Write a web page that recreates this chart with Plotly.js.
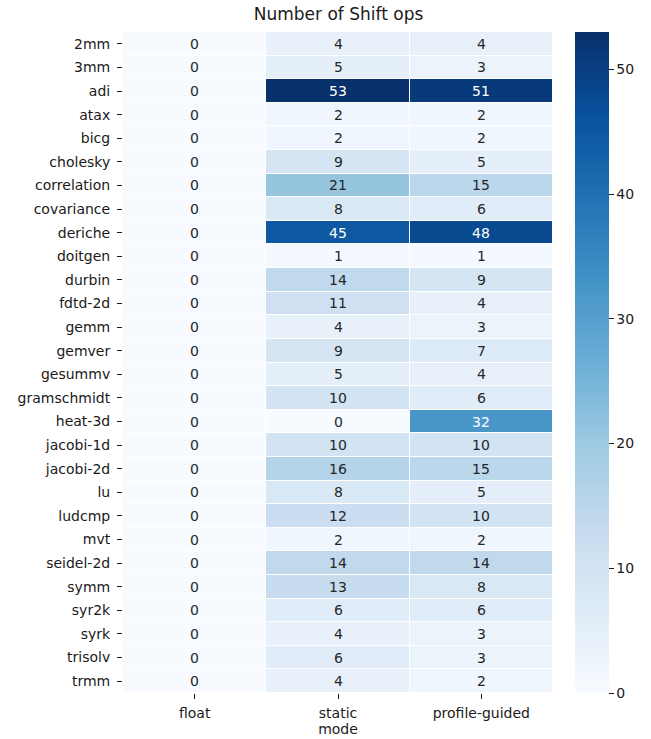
<!DOCTYPE html>
<html><head><meta charset="utf-8">
<script src="https://cdn.plot.ly/plotly-3.0.1.min.js"></script>
<style>body{margin:0;padding:0;background:#fff}#chart{width:651px;height:739px}</style>
</head><body><div id="chart"></div>
<script>
const benchmarks = ["2mm","3mm","adi","atax","bicg","cholesky","correlation","covariance","deriche","doitgen","durbin","fdtd-2d","gemm","gemver","gesummv","gramschmidt","heat-3d","jacobi-1d","jacobi-2d","lu","ludcmp","mvt","seidel-2d","symm","syr2k","syrk","trisolv","trmm"];
const modes = ["float","static","profile-guided"];
const floatVals = [0,0,0,0,0,0,0,0,0,0,0,0,0,0,0,0,0,0,0,0,0,0,0,0,0,0,0,0];
const staticVals = [4,5,53,2,2,9,21,8,45,1,14,11,4,9,5,10,0,10,16,8,12,2,14,13,6,4,6,4];
const profileVals = [4,3,51,2,2,5,15,6,48,1,9,4,3,7,4,6,32,10,15,5,10,2,14,8,6,3,3,2];
const cbarTicks = [0,10,20,30,40,50];

const z = benchmarks.map((b,i)=>[floatVals[i], staticVals[i], profileVals[i]]);
const zmax = 53;
const blues = [[0,'#f7fbff'],[0.125,'#deebf7'],[0.25,'#c6dbef'],[0.375,'#9ecae1'],[0.5,'#6baed6'],[0.625,'#4292c6'],[0.75,'#2171b5'],[0.875,'#08519c'],[1,'#08306b']];
const FONT = 'DejaVu Sans';
const TXT = '#1a1a1a';

const annotations = [];
benchmarks.forEach((b,i)=>{
  modes.forEach((m,j)=>{
    const v = z[i][j];
    annotations.push({x:m, y:b, text:String(v), showarrow:false, xref:'x', yref:'y',
      font:{family:FONT, size:14, color: v/zmax > 0.55 ? '#ffffff' : '#262626'}});
  });
});

const trace = {type:'heatmap', x:modes, y:benchmarks, z:z, zmin:0, zmax:zmax, colorscale:blues,
  xgap:1, ygap:1, hoverinfo:'none',
  colorbar:{x:1.051, xanchor:'left', y:0.5, yanchor:'middle', len:1, lenmode:'fraction', thickness:34, thicknessmode:'pixels',
    outlinewidth:0, ticks:'outside', ticklen:5, tickwidth:1, tickcolor:TXT, tickvals:cbarTicks,
    tickfont:{family:FONT, size:14, color:TXT}, xpad:0, ypad:0}};

const layout = {
  width:651, height:739,
  margin:{l:123, r:98, t:32, b:46},
  paper_bgcolor:'#fff', plot_bgcolor:'#fff',
  title:{text:'Number of Shift ops', x:0.52, xanchor:'center', y:0.989, yanchor:'top', font:{family:FONT, size:17, color:TXT}},
  xaxis:{type:'category', showgrid:false, zeroline:false, ticks:'outside', ticklen:5, tickcolor:TXT, ticklabelstandoff:2,
    tickfont:{family:FONT, size:14, color:TXT},
    title:{text:'mode', standoff:2, font:{family:FONT, size:14, color:TXT}}},
  yaxis:{type:'category', autorange:'reversed', showgrid:false, zeroline:false, ticks:'outside', ticklen:5, tickcolor:TXT, ticklabelstandoff:4,
    tickfont:{family:FONT, size:14, color:TXT}},
  annotations:annotations
};
Plotly.newPlot('chart',[trace],layout,{displayModeBar:false, staticPlot:true});
</script></body></html>
